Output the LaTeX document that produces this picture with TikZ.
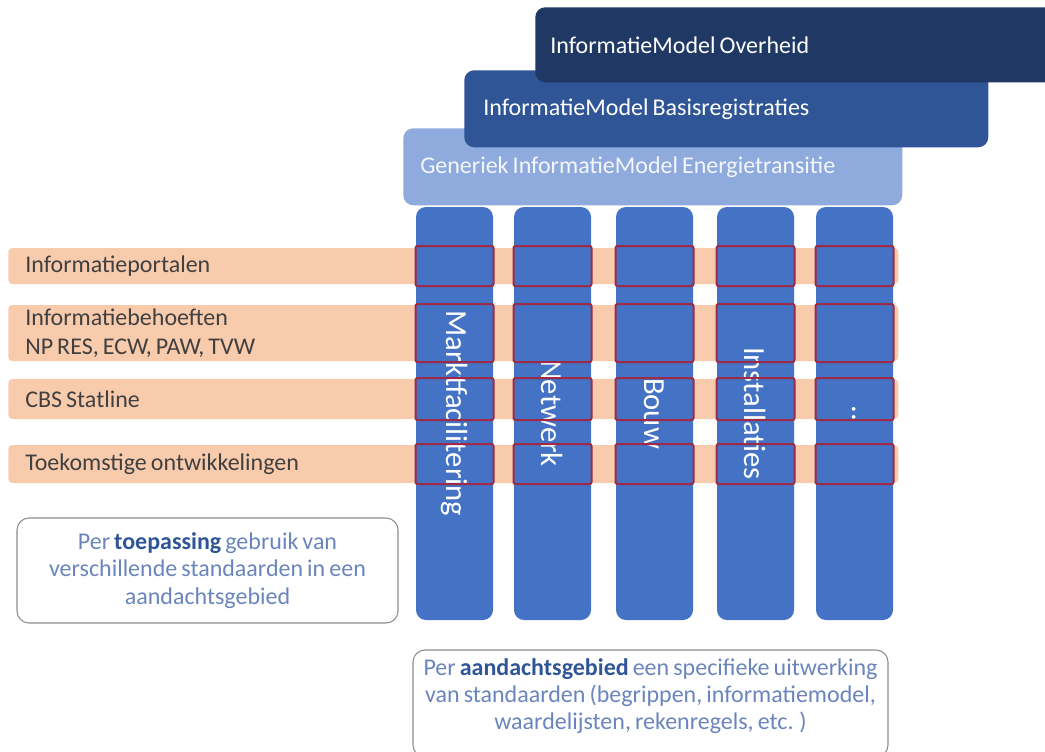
\documentclass[tikz,border=0pt]{standalone}
\usepackage{fontspec}
\setmainfont[WordSpace=0.75]{Carlito}

\definecolor{ovhblue}{HTML}{203864}
\definecolor{basblue}{HTML}{2F5597}
\definecolor{genblue}{HTML}{8FAADC}
\definecolor{colblue}{HTML}{4472C4}
\definecolor{roworange}{HTML}{F8CBAD}
\definecolor{cellred}{HTML}{9E2A48}
\definecolor{notetext}{HTML}{6A85BD}
\definecolor{notebold}{HTML}{2F5597}

\tikzset{
	modelbox/.style={shape=rectangle, rounded corners=7.5pt, align=flush left, anchor=north west,
		text=white, inner ysep=0pt, font=\fontsize{18}{22}\selectfont},
	rowbar/.style={shape=rectangle, rounded corners=3pt, fill=roworange, align=flush left, anchor=west,
		text=black!75, inner xsep=12.75pt, inner ysep=0pt, text width=642pt,
		font=\fontsize{18}{22}\selectfont},
	column/.style={shape=rectangle, rounded corners=7.5pt, fill=colblue, rotate=-90,
		minimum width=309.75pt, minimum height=57.75pt, inner sep=0pt,
		text=white, font=\fontsize{23}{27}\selectfont},
	cell/.style={shape=rectangle, rounded corners=1.5pt, draw=cellred, line width=1.5pt,
		minimum width=58.5pt, inner sep=0pt},
	notebox/.style={shape=rectangle, rounded corners=9pt, draw=black!45, line width=0.8pt,
		align=center, text=notetext, font=\fontsize{18}{20.5}\selectfont}
}

\begin{document}
\begin{tikzpicture}[x=0.75pt, y=-0.75pt]
			\useasboundingbox (0,0) rectangle (1045,751);
			
			% aandachtsgebieden over de toepassingen heen
			\node (z1)[rowbar, minimum height=27pt] at (8,266) {Informatieportalen};
			\node (z2)[rowbar, minimum height=42pt] at (8,333) {Informatiebehoeften\\ NP RES, ECW, PAW, TVW};
			\node (z3)[rowbar, minimum height=30pt] at (8,399) {CBS Statline};
			\node (z4)[rowbar, minimum height=28.5pt] at (8,464) {Toekomstige ontwikkelingen};
			
			\node (k1)[column] at (454.5,413.5) {Marktfacilitering};
			\node (k2)[column] at (552.5,413.5) {Netwerk};
			\node (k3)[column] at (654.5,413.5) {Bouw};
			\node (k4)[column] at (755.5,413.5) {Installaties};
			\node (k5)[column] at (854.5,413.5) {..};
			
			% kruispunten
			\foreach \x [count=\i] in {454.5,552.5,654.5,755.5,854.5}
				\foreach \y/\h [count=\j] in {266/40, 333/58, 399/42, 464/40}
					\node (c\i\j)[cell, minimum height=\h*0.75pt] at (\x,\y) {};
			
			% informatiemodellen
			\node (m1)[modelbox, fill=genblue, text=white!90!genblue, minimum height=57.75pt,
				inner xsep=12.75pt, text width=348.75pt] at (403,128)
				{Generiek InformatieModel Energietransitie};
			\node (m2)[modelbox, fill=basblue, minimum height=57.75pt,
				inner xsep=14.25pt, text width=364.5pt] at (464,70)
				{InformatieModel Basisregistraties};
			\node (m3)[modelbox, fill=ovhblue, minimum height=56.25pt,
				inner xsep=11.25pt, text width=367.5pt] at (535,7)
				{InformatieModel Overheid};
			
			% toelichting
			\node (n1)[notebox, minimum width=285.75pt, minimum height=78.75pt] at (207.5,570.5) {
				Per \textbf{\color{notebold}toepassing} gebruik van\\
				verschillende standaarden in een\\
				aandachtsgebied
			};
			\node (n2)[notebox, minimum width=356.25pt, minimum height=80.25pt] at (650.5,703.5) {};
			\node (n3)[notebox, draw=none] at (650.5,696) {
				Per \textbf{\color{notebold}aandachtsgebied} een specifieke uitwerking\\
				van standaarden (begrippen, informatiemodel,\\
				waardelijsten, rekenregels, etc. )
			};
		\end{tikzpicture}
\end{document}
